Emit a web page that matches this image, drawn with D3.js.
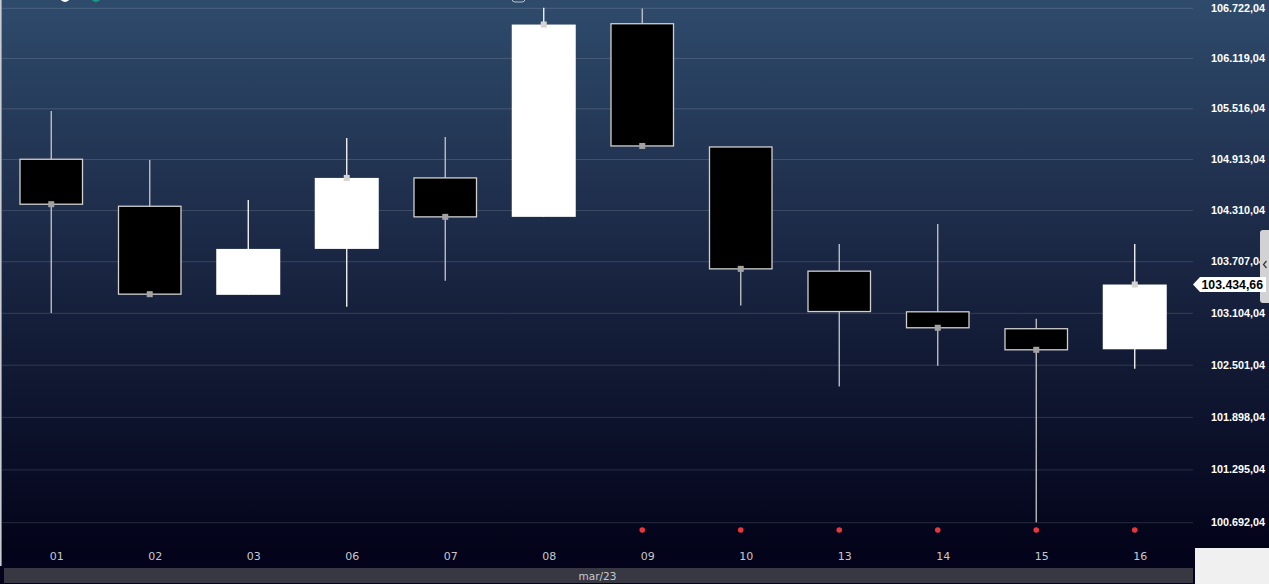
<!DOCTYPE html>
<html><head><meta charset="utf-8">
<script src="https://cdnjs.cloudflare.com/ajax/libs/d3/7.8.5/d3.min.js"></script>
<style>html,body{margin:0;padding:0;background:#03031a;overflow:hidden}svg{display:block}</style>
</head><body>
<svg id="c" width="1269" height="584"></svg>
<script>
const dates = ["01","02","03","06","07","08","09","10","13","14","15","16"];
const openV  = [104910, 104354, 103314, 103852, 104689, 104229, 106530, 105056, 103591, 103116, 102919, 102680];
const highV  = [105485, 104902, 104429, 105163, 105175, 106722.04, 106715, 105056, 103911, 104146, 103034, 103911];
const lowV   = [103101, 103322, 103314, 103174, 103478, 104229, 105068, 103190, 102249, 102488, 100692.04, 102454];
const closeV = [104378, 103322, 103852, 104689, 104229, 106520, 105068, 103618, 103119, 102930, 102674, 103434.66];
const markers = [1,1,0,1,1,1,1,1,0,1,1,1];
const signals = [0,0,0,0,0,0,1,1,1,1,1,1];
const yTicks = [100692.04, 101295.04, 101898.04, 102501.04, 103104.04, 103707.04, 104310.04, 104913.04, 105516.04, 106119.04, 106722.04];
const monthLabel = "mar/23";
const lastPrice = 103434.66;

const data = dates.map((d,i)=>({d, o:openV[i], h:highV[i], l:lowV[i], c:closeV[i], m:markers[i], s:signals[i]}));
const loc = d3.formatLocale({decimal:",", thousands:".", grouping:[3], currency:["",""]});
const fmt = loc.format(",.2f");

const svg = d3.select("#c");
const defs = svg.append("defs");
const g = defs.append("linearGradient").attr("id","bg").attr("x1",0).attr("y1",0).attr("x2",0).attr("y2",1);
g.append("stop").attr("offset","0%").attr("stop-color","#2f4b6c");
g.append("stop").attr("offset","50%").attr("stop-color","#17223e");
g.append("stop").attr("offset","94%").attr("stop-color","#03041a");
g.append("stop").attr("offset","100%").attr("stop-color","#02021a");
svg.append("rect").attr("width",1269).attr("height",584).attr("fill","url(#bg)");

const x = d3.scaleBand().domain(dates).range([2, 2+12*98.5]).padding(0);
const y = d3.scaleLog().domain([100692.04, 106722.04]).range([522.2, 7.8]);
const bw = 64;

// gridlines
svg.append("g").attr("transform","translate(1193,0)")
  .call(d3.axisLeft(y).tickValues(yTicks).tickSize(1191).tickFormat(""))
  .call(s=>s.select(".domain").remove())
  .call(s=>s.selectAll("line").attr("stroke","#ffffff").attr("stroke-opacity",0.14));

// right labels
svg.append("g").attr("transform","translate(1265,0)")
  .call(d3.axisRight(y).tickValues(yTicks).tickSize(0).tickFormat(fmt))
  .call(s=>s.select(".domain").remove())
  .call(s=>s.selectAll("text").attr("x",0).attr("text-anchor","end").attr("fill","#ffffff")
     .attr("font-family","'Liberation Sans', Arial, sans-serif").attr("font-weight","bold").attr("font-size","11px")
     .attr("textLength",54).attr("lengthAdjust","spacingAndGlyphs"));

// left border
svg.append("rect").attr("x",0).attr("y",0).attr("width",1.6).attr("height",566).attr("fill","#c9cdd2");

// candles
const cg = svg.append("g");
data.forEach(d=>{
  const cx = x(d.d) + x.bandwidth()/2;
  const up = d.c >= d.o;
  const wc = up ? "#ffffff" : "#c8c8c8";
  cg.append("line").attr("x1",cx).attr("x2",cx).attr("y1",y(d.h)).attr("y2",y(d.l))
    .attr("stroke",wc).attr("stroke-width",1.3);
  const top = y(Math.max(d.o,d.c)), bot = y(Math.min(d.o,d.c));
  if (up) {
    cg.append("rect").attr("x",cx-bw/2).attr("y",top).attr("width",bw).attr("height",Math.max(1,bot-top)).attr("fill","#ffffff");
  } else {
    cg.append("rect").attr("x",cx-bw/2+0.75).attr("y",top).attr("width",bw-1.5).attr("height",Math.max(1,bot-top))
      .attr("fill","#000000").attr("stroke","#d0d0d0").attr("stroke-width",1.3);
  }
  if (d.m) cg.append("rect").attr("x",cx-3).attr("y",y(d.c)-3).attr("width",6).attr("height",6)
    .attr("fill", up ? "#d4d4d4" : "#a3a3a3");
  if (d.s) cg.append("circle").attr("cx",cx).attr("cy",530).attr("r",2.8).attr("fill","#e8363b");
});

// x labels
svg.append("g").attr("transform","translate(5.5,546)")
  .call(d3.axisBottom(x).tickSize(0))
  .call(s=>s.select(".domain").remove())
  .call(s=>s.selectAll("text").attr("y",6).attr("dy","0.71em").attr("fill","#c8c8cc")
     .attr("font-family","'DejaVu Sans', sans-serif").attr("font-size","11px"));

// bottom bar
svg.append("rect").attr("x",4).attr("y",568).attr("width",1189).attr("height",15).attr("fill","#383843");
svg.append("text").attr("x",597.5).attr("y",580).attr("text-anchor","middle").attr("fill","#c8c8cc")
  .attr("font-family","'DejaVu Sans', sans-serif").attr("font-size","10.5px").text(monthLabel);
svg.append("rect").attr("x",1195).attr("y",548).attr("width",74).attr("height",36).attr("fill","#f0f0f0");

// right tab
svg.append("path").attr("d","M1269,230 L1263,230 Q1260,230 1260,233 L1260,300 Q1260,303 1263,303 L1269,303 Z").attr("fill","#d2d2d4");
svg.append("path").attr("d","M1266.5,261 L1263.5,264.5 L1266.5,268").attr("fill","none").attr("stroke","#333").attr("stroke-width",1.2);

// last price label
const ly = y(lastPrice);
svg.append("path").attr("d",`M1193,${ly} L1200,${ly-7.5} L1266,${ly-7.5} L1266,${ly+7.5} L1200,${ly+7.5} Z`).attr("fill","#ffffff");
svg.append("text").attr("x",1201.5).attr("y",ly+4.2).attr("text-anchor","start").attr("fill","#000")
  .attr("font-family","'Liberation Sans', Arial, sans-serif").attr("font-weight","bold").attr("font-size","12px")
  .attr("textLength",61.5).attr("lengthAdjust","spacingAndGlyphs").text(fmt(lastPrice));

// clipped top icons
svg.append("circle").attr("cx",65).attr("cy",-3).attr("r",5).attr("fill","#ffffff");
svg.append("circle").attr("cx",96).attr("cy",-3).attr("r",5).attr("fill","#1a9b86");
svg.append("rect").attr("x",512).attr("y",-8).attr("width",13).attr("height",10).attr("rx",3)
  .attr("fill","none").attr("stroke","#b8c0cc").attr("stroke-width",1);
</script>
</body></html>
